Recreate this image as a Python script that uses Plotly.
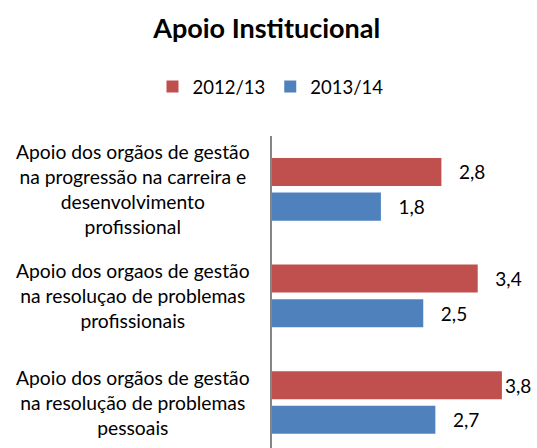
import plotly.graph_objects as go

categories = [
    "Apoio dos orgãos de gestão<br>na progressão na carreira e<br>desenvolvimento<br>profissional",
    "Apoio dos orgaos de gestão<br>na resoluçao de problemas<br>profissionais",
    "Apoio dos orgãos de gestão<br>na resolução de problemas<br>pessoais",
]
series_names = ["2012/13", "2013/14"]
values_2012_13 = [2.8, 3.4, 3.8]
values_2013_14 = [1.8, 2.5, 2.7]
colors = ["#C0504D", "#4F81BD"]

FONT = "Lato"
NB = "\u00a0"
W, H = 537, 448
L, R, T, B = 272, 8, 136, 0
XMAX = 4.248

fig = go.Figure()
for name, vals, col in zip(series_names, [values_2012_13, values_2013_14], colors):
    # labels near the right edge are pulled closer to their bar (as in the original)
    pads = ["" if v > 3.6 else NB * 3 for v in vals]
    fig.add_trace(go.Bar(
        y=categories, x=vals, name=name, orientation="h",
        marker=dict(color=col, line=dict(width=0)),
        texttemplate=[p + "%{x:.1f}" for p in pads], textposition="outside",
        cliponaxis=False, constraintext="none",
        textfont=dict(family=FONT, size=19, color="#000000"),
    ))

for c in categories:
    fig.add_annotation(
        text=c, y=c, yref="y", x=(133 - L) / (W - L - R), xref="paper",
        xanchor="center", yanchor="middle", align="center", showarrow=False,
        font=dict(family=FONT, size=19.3, color="#000000"),
    )

fig.update_layout(
    width=W, height=H,
    margin=dict(l=L, r=R, t=T, b=B, autoexpand=False),
    paper_bgcolor="white", plot_bgcolor="white",
    separators=",.",
    barmode="group", bargap=0.35, bargroupgap=0.19,
    title=dict(text="<b>Apoio Institucional</b>", x=266.7 / W, xref="container", xanchor="center",
               y=1 - 29 / H, yref="container", yanchor="middle",
               font=dict(family=FONT, size=27, color="#000000")),
    legend=dict(orientation="h", x=270.5 / W, xref="container", xanchor="center",
                y=1 - 87 / H, yref="container", yanchor="middle", itemwidth=30,
                font=dict(family=FONT, size=18.5, color="#000000"), traceorder="normal"),
    xaxis=dict(visible=False, range=[0, XMAX], showgrid=False, zeroline=False),
    yaxis=dict(showticklabels=False, showgrid=False, zeroline=False, showline=True,
               linecolor="#868686", linewidth=1.5, ticks="",
               range=[2.427, -0.5]),
)

fig.write_html("out.html", config={"displayModeBar": False},
               post_script="document.body.style.margin='0';")
